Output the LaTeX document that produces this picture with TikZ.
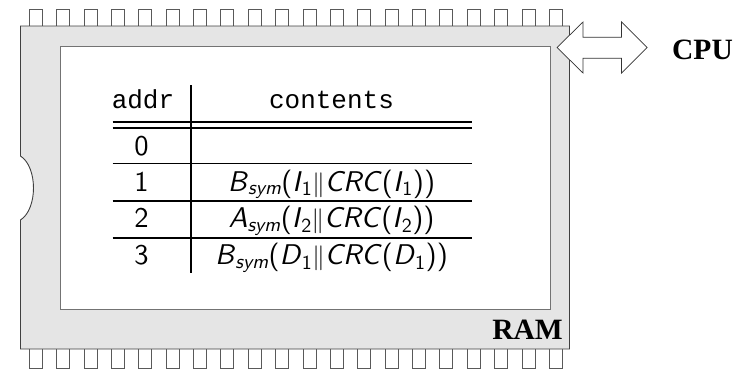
\documentclass[tikz,border=0pt]{standalone}
\usepackage{fontspec}
\newfontfamily\labelfont{Liberation Serif}
\newfontfamily\ttcell{Liberation Mono}
\newfontfamily\cellsf{lmsans10-regular}[Extension=.otf, ItalicFont=lmsans10-oblique]
\tikzset{
  chip/.style={fill=black!10, draw=black!75, line width=0.9pt},
  inner/.style={fill=white, draw=black!55, line width=0.9pt},
  pin/.style={fill=white, draw=black!65, line width=0.8pt},
  bus/.style={fill=white, draw=black!80, line width=0.7pt},
  biglabel/.style={font=\labelfont\bfseries\fontsize{29.5}{32}\selectfont, inner sep=0pt},
  headcell/.style={font=\ttcell\fontsize{26}{28}\selectfont, inner sep=0pt, anchor=base},
  cell/.style={font=\cellsf\fontsize{28.5}{30}\selectfont, inner sep=0pt, anchor=base},
  rule/.style={line width=1.4pt},
  dblrule/.style={line width=2.2pt},
}
\newcommand\cs[1]{\textit{#1}}
\begin{document}
\begin{tikzpicture}[x=1pt,y=-1pt]
\useasboundingbox (0,0) rectangle (753,372);
% pins
\foreach \i in {0,...,19} {
  \draw[pin] ({29.3+27.37*\i},26) -- ({29.3+27.37*\i},9.3) -- ({42.3+27.37*\i},9.3) -- ({42.3+27.37*\i},26);
  \draw[pin] ({29.3+27.37*\i},349) -- ({29.3+27.37*\i},368) -- ({42.3+27.37*\i},368) -- ({42.3+27.37*\i},349);
}
% chip body with notch
\draw[chip] (20.5,26) -- (569.5,26) -- (569.5,349) -- (20.5,349) -- (20.5,220)
  .. controls (37.8,209) and (37.8,167) .. (20.5,156) -- cycle;
\draw[inner] (60,46.5) rectangle (550.5,309);
% bus arrow
\draw[bus] (557,47.5) -- (583,22) -- (583,37.3) -- (621.5,37.3) -- (621.5,22) -- (647,47.5)
  -- (621.5,73) -- (621.5,58.3) -- (583,58.3) -- (583,73) -- cycle;
\node[biglabel, anchor=base] (cpu) at (702.5,59) {CPU};
\node[biglabel, anchor=base] (ram) at (527.5,339) {RAM};
% table rules
\draw[rule] (191,85) -- (191,273);
\draw[dblrule] (112.7,122) -- (472,122);
\draw[dblrule] (112.7,128.2) -- (472,128.2);
\draw[rule] (112.7,163.5) -- (472,163.5);
\draw[rule] (112.7,200.8) -- (472,200.8);
\draw[rule] (112.7,237.8) -- (472,237.8);
% header
\node[headcell] (haddr) at (143,108.5) {addr};
\node[headcell] (hcont) at (331.5,108.5) {contents};
% rows
\node[cell] (a0) at (141.5,155.5) {0};
\node[cell] (a1) at (141.5,191) {1};
\node[cell] (a2) at (141.5,227.5) {2};
\node[cell] (a3) at (141.5,264.5) {3};
\node[cell] (c1) at (331.5,191) {\cs{B}\textsubscript{\cs{sym}}(\cs{I}\textsubscript{1}$\|$\cs{CRC}(\cs{I}\textsubscript{1}))};
\node[cell] (c2) at (331.5,227.5) {\cs{A}\textsubscript{\cs{sym}}(\cs{I}\textsubscript{2}$\|$\cs{CRC}(\cs{I}\textsubscript{2}))};
\node[cell] (c3) at (331.5,264.5) {\cs{B}\textsubscript{\cs{sym}}(\cs{D}\textsubscript{1}$\|$\cs{CRC}(\cs{D}\textsubscript{1}))};
\end{tikzpicture}
\end{document}
